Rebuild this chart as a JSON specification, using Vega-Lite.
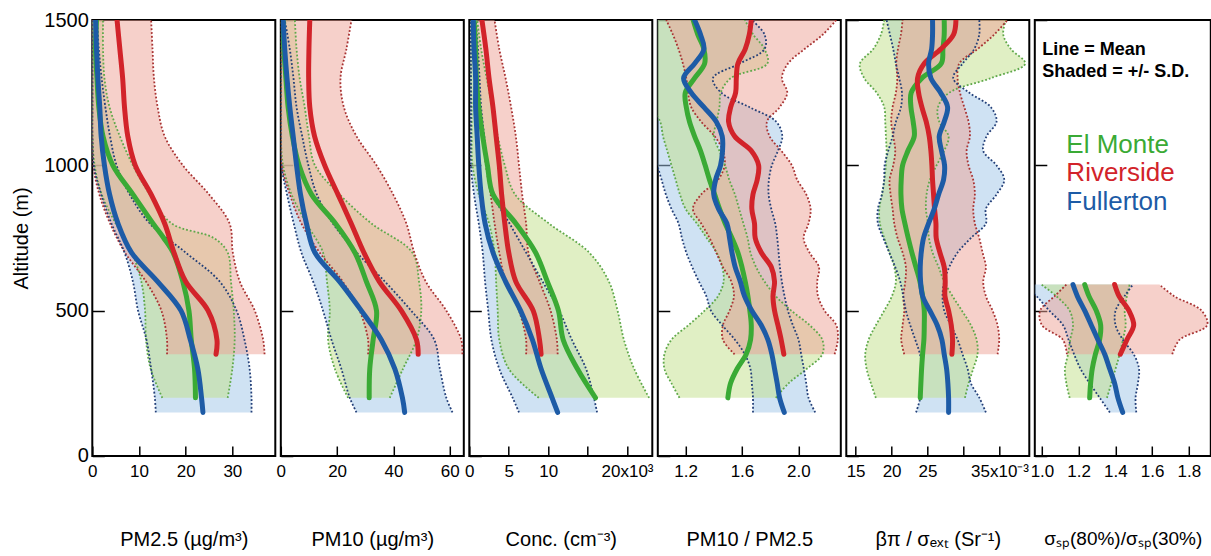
{
 "$schema": "https://vega.github.io/schema/vega-lite/v6.json",
 "background": "white",
 "padding": {"left": 10.3, "top": 9, "right": 0, "bottom": 0},
 "bounds": "flush",
 "spacing": 5.5,
 "config": {
  "view": {"stroke": "black", "strokeWidth": 2},
  "font": "Liberation Sans",
  "axis": {"labelFont": "Liberation Sans", "titleFont": "Liberation Sans", "labelColor": "black", "titleColor": "black", "tickColor": "black", "tickWidth": 1.5, "titleFontWeight": "normal", "grid": false, "domain": false, "labelOverlap": false, "labelBound": false, "labelFlush": false}
 },
 "datasets": {
  "notes": [
   {"p": "sp", "kind": "head", "label": "Line = Mean", "site": "none", "x": 1.002, "alt": 1397},
   {"p": "sp", "kind": "head", "label": "Shaded = +/- S.D.", "site": "none", "x": 1.002, "alt": 1321},
   {"p": "sp", "kind": "site", "label": "El Monte", "site": "El Monte", "x": 1.133, "alt": 1070},
   {"p": "sp", "kind": "site", "label": "Riverside", "site": "Riverside", "x": 1.133, "alt": 972},
   {"p": "sp", "kind": "site", "label": "Fullerton", "site": "Fullerton", "x": 1.133, "alt": 874}
  ],
  "prof": [
   {"p":"pm25","site":"El Monte","alt":1500,"mean":0.9,"lo":0,"hi":2.3},
   {"p":"pm25","site":"El Monte","alt":1400,"mean":0.7,"lo":0,"hi":2.3},
   {"p":"pm25","site":"El Monte","alt":1300,"mean":1.0,"lo":0,"hi":2.6},
   {"p":"pm25","site":"El Monte","alt":1200,"mean":1.4,"lo":0,"hi":3.7},
   {"p":"pm25","site":"El Monte","alt":1100,"mean":2.3,"lo":0,"hi":5.9},
   {"p":"pm25","site":"El Monte","alt":1000,"mean":4.4,"lo":0.5,"hi":8.7},
   {"p":"pm25","site":"El Monte","alt":900,"mean":8.7,"lo":2,"hi":12.3},
   {"p":"pm25","site":"El Monte","alt":800,"mean":13,"lo":5,"hi":17},
   {"p":"pm25","site":"El Monte","alt":750,"mean":15.3,"lo":6.8,"hi":26},
   {"p":"pm25","site":"El Monte","alt":700,"mean":17.3,"lo":8.5,"hi":29},
   {"p":"pm25","site":"El Monte","alt":600,"mean":19.4,"lo":10.5,"hi":29.7},
   {"p":"pm25","site":"El Monte","alt":500,"mean":20.7,"lo":11.3,"hi":30.3},
   {"p":"pm25","site":"El Monte","alt":400,"mean":21.2,"lo":11.5,"hi":30.5},
   {"p":"pm25","site":"El Monte","alt":300,"mean":21.9,"lo":12.5,"hi":30},
   {"p":"pm25","site":"El Monte","alt":200,"mean":22.1,"lo":15,"hi":29},
   {"p":"pm25","site":"Riverside","alt":1500,"mean":5.3,"lo":0,"hi":12.6},
   {"p":"pm25","site":"Riverside","alt":1400,"mean":5.9,"lo":0,"hi":12.9},
   {"p":"pm25","site":"Riverside","alt":1300,"mean":6.5,"lo":0,"hi":13.2},
   {"p":"pm25","site":"Riverside","alt":1200,"mean":6.9,"lo":0,"hi":14},
   {"p":"pm25","site":"Riverside","alt":1100,"mean":7.6,"lo":0,"hi":15.5},
   {"p":"pm25","site":"Riverside","alt":1000,"mean":9.2,"lo":0.2,"hi":19.4},
   {"p":"pm25","site":"Riverside","alt":900,"mean":12.6,"lo":1.5,"hi":25},
   {"p":"pm25","site":"Riverside","alt":800,"mean":15.5,"lo":3.8,"hi":29.4},
   {"p":"pm25","site":"Riverside","alt":700,"mean":17.5,"lo":7,"hi":30.1},
   {"p":"pm25","site":"Riverside","alt":600,"mean":20,"lo":11.5,"hi":31.6},
   {"p":"pm25","site":"Riverside","alt":500,"mean":24.8,"lo":14.8,"hi":34.8},
   {"p":"pm25","site":"Riverside","alt":400,"mean":26.7,"lo":16,"hi":36.6},
   {"p":"pm25","site":"Riverside","alt":350,"mean":26.5,"lo":16,"hi":36.9},
   {"p":"pm25","site":"Fullerton","alt":1500,"mean":0.7,"lo":0,"hi":1.0},
   {"p":"pm25","site":"Fullerton","alt":1400,"mean":0.9,"lo":0,"hi":1.4},
   {"p":"pm25","site":"Fullerton","alt":1300,"mean":1.2,"lo":0,"hi":2.0},
   {"p":"pm25","site":"Fullerton","alt":1200,"mean":1.6,"lo":0,"hi":2.8},
   {"p":"pm25","site":"Fullerton","alt":1100,"mean":1.9,"lo":0,"hi":3.8},
   {"p":"pm25","site":"Fullerton","alt":1000,"mean":2.6,"lo":0.3,"hi":5.2},
   {"p":"pm25","site":"Fullerton","alt":900,"mean":3.7,"lo":1.9,"hi":8},
   {"p":"pm25","site":"Fullerton","alt":800,"mean":5.5,"lo":4.1,"hi":12.3},
   {"p":"pm25","site":"Fullerton","alt":700,"mean":8.4,"lo":6.9,"hi":20},
   {"p":"pm25","site":"Fullerton","alt":600,"mean":14,"lo":8.7,"hi":27.3},
   {"p":"pm25","site":"Fullerton","alt":500,"mean":19,"lo":9.8,"hi":30.9},
   {"p":"pm25","site":"Fullerton","alt":400,"mean":21,"lo":11.6,"hi":32.6},
   {"p":"pm25","site":"Fullerton","alt":300,"mean":22.6,"lo":12.6,"hi":33.7},
   {"p":"pm25","site":"Fullerton","alt":200,"mean":23.4,"lo":13.4,"hi":34.1},
   {"p":"pm25","site":"Fullerton","alt":150,"mean":23.7,"lo":13.6,"hi":34.1},

   {"p":"pm10","site":"El Monte","alt":1500,"mean":0.8,"lo":0,"hi":5},
   {"p":"pm10","site":"El Monte","alt":1400,"mean":1.1,"lo":0,"hi":5.6},
   {"p":"pm10","site":"El Monte","alt":1300,"mean":1.8,"lo":0,"hi":6.7},
   {"p":"pm10","site":"El Monte","alt":1200,"mean":2.6,"lo":0,"hi":8.5},
   {"p":"pm10","site":"El Monte","alt":1100,"mean":4.1,"lo":0,"hi":10},
   {"p":"pm10","site":"El Monte","alt":1000,"mean":6.5,"lo":0.8,"hi":12.1},
   {"p":"pm10","site":"El Monte","alt":900,"mean":10.9,"lo":3.8,"hi":20.9},
   {"p":"pm10","site":"El Monte","alt":800,"mean":19.4,"lo":9.1,"hi":32.2},
   {"p":"pm10","site":"El Monte","alt":700,"mean":26.3,"lo":15,"hi":46.7},
   {"p":"pm10","site":"El Monte","alt":600,"mean":30.4,"lo":16.4,"hi":49.1},
   {"p":"pm10","site":"El Monte","alt":500,"mean":34,"lo":17.4,"hi":49.9},
   {"p":"pm10","site":"El Monte","alt":400,"mean":32.8,"lo":16.8,"hi":48.2},
   {"p":"pm10","site":"El Monte","alt":300,"mean":31.6,"lo":19.2,"hi":43.4},
   {"p":"pm10","site":"El Monte","alt":200,"mean":31.4,"lo":23.9,"hi":38.7},
   {"p":"pm10","site":"Riverside","alt":1500,"mean":10.3,"lo":0,"hi":25.1},
   {"p":"pm10","site":"Riverside","alt":1400,"mean":10,"lo":0,"hi":23.3},
   {"p":"pm10","site":"Riverside","alt":1300,"mean":9.9,"lo":0,"hi":21.2},
   {"p":"pm10","site":"Riverside","alt":1200,"mean":10.3,"lo":0,"hi":22.4},
   {"p":"pm10","site":"Riverside","alt":1100,"mean":12,"lo":0,"hi":26.9},
   {"p":"pm10","site":"Riverside","alt":1000,"mean":15.6,"lo":0.3,"hi":34},
   {"p":"pm10","site":"Riverside","alt":900,"mean":20.3,"lo":3.2,"hi":39.9},
   {"p":"pm10","site":"Riverside","alt":800,"mean":25,"lo":7.3,"hi":44.6},
   {"p":"pm10","site":"Riverside","alt":700,"mean":29.5,"lo":13.8,"hi":47.4},
   {"p":"pm10","site":"Riverside","alt":600,"mean":35,"lo":22,"hi":51.5},
   {"p":"pm10","site":"Riverside","alt":500,"mean":42.8,"lo":28,"hi":58.8},
   {"p":"pm10","site":"Riverside","alt":400,"mean":48.2,"lo":31,"hi":64.1},
   {"p":"pm10","site":"Riverside","alt":350,"mean":48.8,"lo":31,"hi":64.5},
   {"p":"pm10","site":"Fullerton","alt":1500,"mean":0.8,"lo":0,"hi":1.4},
   {"p":"pm10","site":"Fullerton","alt":1400,"mean":1.4,"lo":0,"hi":3.2},
   {"p":"pm10","site":"Fullerton","alt":1300,"mean":2.2,"lo":0,"hi":4.5},
   {"p":"pm10","site":"Fullerton","alt":1200,"mean":3.2,"lo":0,"hi":5.6},
   {"p":"pm10","site":"Fullerton","alt":1100,"mean":4.4,"lo":0,"hi":7.6},
   {"p":"pm10","site":"Fullerton","alt":1000,"mean":5.6,"lo":0.2,"hi":9.8},
   {"p":"pm10","site":"Fullerton","alt":900,"mean":7,"lo":2.2,"hi":12.8},
   {"p":"pm10","site":"Fullerton","alt":800,"mean":9.1,"lo":4.6,"hi":18.5},
   {"p":"pm10","site":"Fullerton","alt":700,"mean":12.1,"lo":7.3,"hi":27},
   {"p":"pm10","site":"Fullerton","alt":600,"mean":20.9,"lo":11.5,"hi":37},
   {"p":"pm10","site":"Fullerton","alt":500,"mean":28.6,"lo":15,"hi":46.3},
   {"p":"pm10","site":"Fullerton","alt":400,"mean":35.7,"lo":18,"hi":54.5},
   {"p":"pm10","site":"Fullerton","alt":300,"mean":40.5,"lo":21.5,"hi":56.5},
   {"p":"pm10","site":"Fullerton","alt":200,"mean":43.2,"lo":24.5,"hi":58.8},
   {"p":"pm10","site":"Fullerton","alt":150,"mean":44,"lo":26.9,"hi":61},

   {"p":"conc","site":"El Monte","alt":1500,"mean":0.6,"lo":0.2,"hi":1.0},
   {"p":"conc","site":"El Monte","alt":1400,"mean":0.8,"lo":0.2,"hi":1.5},
   {"p":"conc","site":"El Monte","alt":1300,"mean":0.9,"lo":0.2,"hi":2.2},
   {"p":"conc","site":"El Monte","alt":1200,"mean":1.2,"lo":0.3,"hi":2.9},
   {"p":"conc","site":"El Monte","alt":1100,"mean":1.7,"lo":0.3,"hi":3.6},
   {"p":"conc","site":"El Monte","alt":1000,"mean":2.3,"lo":0.4,"hi":4.5},
   {"p":"conc","site":"El Monte","alt":900,"mean":3.0,"lo":1.2,"hi":5.8},
   {"p":"conc","site":"El Monte","alt":800,"mean":5.9,"lo":2.5,"hi":10.1},
   {"p":"conc","site":"El Monte","alt":700,"mean":8.4,"lo":3.2,"hi":15.2},
   {"p":"conc","site":"El Monte","alt":600,"mean":9.9,"lo":3.4,"hi":17.7},
   {"p":"conc","site":"El Monte","alt":500,"mean":11.3,"lo":3.6,"hi":18.8},
   {"p":"conc","site":"El Monte","alt":400,"mean":11.9,"lo":3.8,"hi":19.6},
   {"p":"conc","site":"El Monte","alt":300,"mean":13.7,"lo":5.0,"hi":20.9},
   {"p":"conc","site":"El Monte","alt":200,"mean":16.0,"lo":8.8,"hi":22.8},
   {"p":"conc","site":"Riverside","alt":1500,"mean":1.6,"lo":0.4,"hi":3.2},
   {"p":"conc","site":"Riverside","alt":1400,"mean":2.1,"lo":0.6,"hi":3.8},
   {"p":"conc","site":"Riverside","alt":1300,"mean":2.5,"lo":0.9,"hi":4.6},
   {"p":"conc","site":"Riverside","alt":1200,"mean":3.0,"lo":1.3,"hi":5.3},
   {"p":"conc","site":"Riverside","alt":1100,"mean":3.4,"lo":1.7,"hi":5.9},
   {"p":"conc","site":"Riverside","alt":1000,"mean":3.8,"lo":2.1,"hi":6.3},
   {"p":"conc","site":"Riverside","alt":900,"mean":4.1,"lo":2.7,"hi":6.7},
   {"p":"conc","site":"Riverside","alt":800,"mean":4.5,"lo":3.2,"hi":7.2},
   {"p":"conc","site":"Riverside","alt":700,"mean":5.0,"lo":3.8,"hi":7.5},
   {"p":"conc","site":"Riverside","alt":600,"mean":5.9,"lo":4.6,"hi":8.9},
   {"p":"conc","site":"Riverside","alt":500,"mean":8.1,"lo":6.3,"hi":10.3},
   {"p":"conc","site":"Riverside","alt":400,"mean":8.9,"lo":7.2,"hi":11.1},
   {"p":"conc","site":"Riverside","alt":350,"mean":9.1,"lo":7.2,"hi":11.2},
   {"p":"conc","site":"Fullerton","alt":1500,"mean":0.5,"lo":0.2,"hi":0.8},
   {"p":"conc","site":"Fullerton","alt":1400,"mean":0.6,"lo":0.2,"hi":1.1},
   {"p":"conc","site":"Fullerton","alt":1300,"mean":0.8,"lo":0.2,"hi":1.3},
   {"p":"conc","site":"Fullerton","alt":1200,"mean":0.8,"lo":0.2,"hi":1.5},
   {"p":"conc","site":"Fullerton","alt":1100,"mean":1.0,"lo":0.2,"hi":1.9},
   {"p":"conc","site":"Fullerton","alt":1000,"mean":1.2,"lo":0.2,"hi":2.3},
   {"p":"conc","site":"Fullerton","alt":900,"mean":1.5,"lo":0.6,"hi":3.0},
   {"p":"conc","site":"Fullerton","alt":800,"mean":2.0,"lo":1.2,"hi":5.1},
   {"p":"conc","site":"Fullerton","alt":700,"mean":3.0,"lo":1.7,"hi":7.2},
   {"p":"conc","site":"Fullerton","alt":600,"mean":4.6,"lo":2.0,"hi":9.3},
   {"p":"conc","site":"Fullerton","alt":500,"mean":6.5,"lo":2.4,"hi":11.4},
   {"p":"conc","site":"Fullerton","alt":400,"mean":8.0,"lo":2.8,"hi":13.0},
   {"p":"conc","site":"Fullerton","alt":300,"mean":9.1,"lo":3.8,"hi":14.8},
   {"p":"conc","site":"Fullerton","alt":200,"mean":10.5,"lo":5.5,"hi":15.8},
   {"p":"conc","site":"Fullerton","alt":150,"mean":11.2,"lo":6.3,"hi":16.2},

   {"p":"ratio","site":"El Monte","alt":1500,"mean":1.254,"lo":0.95,"hi":1.62},
   {"p":"ratio","site":"El Monte","alt":1450,"mean":1.287,"lo":0.95,"hi":1.68},
   {"p":"ratio","site":"El Monte","alt":1400,"mean":1.33,"lo":0.95,"hi":1.76},
   {"p":"ratio","site":"El Monte","alt":1350,"mean":1.335,"lo":0.95,"hi":1.78},
   {"p":"ratio","site":"El Monte","alt":1300,"mean":1.264,"lo":0.95,"hi":1.52},
   {"p":"ratio","site":"El Monte","alt":1250,"mean":1.198,"lo":0.95,"hi":1.45},
   {"p":"ratio","site":"El Monte","alt":1200,"mean":1.205,"lo":0.96,"hi":1.44},
   {"p":"ratio","site":"El Monte","alt":1150,"mean":1.228,"lo":1.02,"hi":1.42},
   {"p":"ratio","site":"El Monte","alt":1100,"mean":1.264,"lo":1.04,"hi":1.40},
   {"p":"ratio","site":"El Monte","alt":1050,"mean":1.306,"lo":1.07,"hi":1.44},
   {"p":"ratio","site":"El Monte","alt":1000,"mean":1.339,"lo":1.10,"hi":1.48},
   {"p":"ratio","site":"El Monte","alt":950,"mean":1.37,"lo":1.13,"hi":1.51},
   {"p":"ratio","site":"El Monte","alt":900,"mean":1.406,"lo":1.16,"hi":1.55},
   {"p":"ratio","site":"El Monte","alt":850,"mean":1.441,"lo":1.20,"hi":1.58},
   {"p":"ratio","site":"El Monte","alt":800,"mean":1.481,"lo":1.28,"hi":1.61},
   {"p":"ratio","site":"El Monte","alt":750,"mean":1.529,"lo":1.35,"hi":1.64},
   {"p":"ratio","site":"El Monte","alt":700,"mean":1.571,"lo":1.42,"hi":1.66},
   {"p":"ratio","site":"El Monte","alt":650,"mean":1.6,"lo":1.46,"hi":1.70},
   {"p":"ratio","site":"El Monte","alt":600,"mean":1.623,"lo":1.47,"hi":1.76},
   {"p":"ratio","site":"El Monte","alt":550,"mean":1.642,"lo":1.43,"hi":1.84},
   {"p":"ratio","site":"El Monte","alt":500,"mean":1.656,"lo":1.335,"hi":1.95},
   {"p":"ratio","site":"El Monte","alt":450,"mean":1.666,"lo":1.22,"hi":2.08},
   {"p":"ratio","site":"El Monte","alt":400,"mean":1.661,"lo":1.10,"hi":2.17},
   {"p":"ratio","site":"El Monte","alt":350,"mean":1.63,"lo":1.05,"hi":2.17},
   {"p":"ratio","site":"El Monte","alt":300,"mean":1.566,"lo":1.05,"hi":2.06},
   {"p":"ratio","site":"El Monte","alt":250,"mean":1.519,"lo":1.10,"hi":1.93},
   {"p":"ratio","site":"El Monte","alt":200,"mean":1.5,"lo":1.157,"hi":1.84},
   {"p":"ratio","site":"Riverside","alt":1500,"mean":1.666,"lo":1.063,"hi":2.269},
   {"p":"ratio","site":"Riverside","alt":1450,"mean":1.652,"lo":1.11,"hi":2.174},
   {"p":"ratio","site":"Riverside","alt":1400,"mean":1.623,"lo":1.15,"hi":2.044},
   {"p":"ratio","site":"Riverside","alt":1350,"mean":1.571,"lo":1.181,"hi":1.926},
   {"p":"ratio","site":"Riverside","alt":1300,"mean":1.56,"lo":1.205,"hi":1.883},
   {"p":"ratio","site":"Riverside","alt":1250,"mean":1.555,"lo":1.217,"hi":1.921},
   {"p":"ratio","site":"Riverside","alt":1200,"mean":1.52,"lo":1.24,"hi":1.867},
   {"p":"ratio","site":"Riverside","alt":1150,"mean":1.505,"lo":1.311,"hi":1.777},
   {"p":"ratio","site":"Riverside","alt":1100,"mean":1.548,"lo":1.406,"hi":1.796},
   {"p":"ratio","site":"Riverside","alt":1050,"mean":1.666,"lo":1.465,"hi":1.879},
   {"p":"ratio","site":"Riverside","alt":1000,"mean":1.718,"lo":1.477,"hi":1.954},
   {"p":"ratio","site":"Riverside","alt":950,"mean":1.708,"lo":1.43,"hi":1.992},
   {"p":"ratio","site":"Riverside","alt":900,"mean":1.678,"lo":1.311,"hi":2.056},
   {"p":"ratio","site":"Riverside","alt":850,"mean":1.67,"lo":1.252,"hi":2.087},
   {"p":"ratio","site":"Riverside","alt":800,"mean":1.689,"lo":1.311,"hi":2.072},
   {"p":"ratio","site":"Riverside","alt":750,"mean":1.694,"lo":1.37,"hi":2.037},
   {"p":"ratio","site":"Riverside","alt":700,"mean":1.737,"lo":1.417,"hi":2.079},
   {"p":"ratio","site":"Riverside","alt":650,"mean":1.808,"lo":1.465,"hi":2.146},
   {"p":"ratio","site":"Riverside","alt":600,"mean":1.831,"lo":1.524,"hi":2.134},
   {"p":"ratio","site":"Riverside","alt":550,"mean":1.82,"lo":1.543,"hi":2.139},
   {"p":"ratio","site":"Riverside","alt":500,"mean":1.831,"lo":1.512,"hi":2.186},
   {"p":"ratio","site":"Riverside","alt":450,"mean":1.855,"lo":1.465,"hi":2.269},
   {"p":"ratio","site":"Riverside","alt":400,"mean":1.878,"lo":1.465,"hi":2.28},
   {"p":"ratio","site":"Riverside","alt":350,"mean":1.897,"lo":1.548,"hi":2.257},
   {"p":"ratio","site":"Fullerton","alt":1500,"mean":1.264,"lo":0.95,"hi":1.67},
   {"p":"ratio","site":"Fullerton","alt":1450,"mean":1.306,"lo":0.95,"hi":1.76},
   {"p":"ratio","site":"Fullerton","alt":1400,"mean":1.33,"lo":0.95,"hi":1.76},
   {"p":"ratio","site":"Fullerton","alt":1350,"mean":1.264,"lo":0.95,"hi":1.583},
   {"p":"ratio","site":"Fullerton","alt":1300,"mean":1.186,"lo":0.95,"hi":1.394},
   {"p":"ratio","site":"Fullerton","alt":1250,"mean":1.24,"lo":0.95,"hi":1.453},
   {"p":"ratio","site":"Fullerton","alt":1200,"mean":1.33,"lo":0.95,"hi":1.654},
   {"p":"ratio","site":"Fullerton","alt":1150,"mean":1.418,"lo":0.95,"hi":1.843},
   {"p":"ratio","site":"Fullerton","alt":1100,"mean":1.46,"lo":0.95,"hi":1.886},
   {"p":"ratio","site":"Fullerton","alt":1050,"mean":1.462,"lo":0.98,"hi":1.855},
   {"p":"ratio","site":"Fullerton","alt":1000,"mean":1.448,"lo":1.0,"hi":1.812},
   {"p":"ratio","site":"Fullerton","alt":950,"mean":1.413,"lo":1.03,"hi":1.791},
   {"p":"ratio","site":"Fullerton","alt":900,"mean":1.4,"lo":1.06,"hi":1.789},
   {"p":"ratio","site":"Fullerton","alt":850,"mean":1.434,"lo":1.1,"hi":1.808},
   {"p":"ratio","site":"Fullerton","alt":800,"mean":1.493,"lo":1.15,"hi":1.836},
   {"p":"ratio","site":"Fullerton","alt":750,"mean":1.512,"lo":1.174,"hi":1.85},
   {"p":"ratio","site":"Fullerton","alt":700,"mean":1.529,"lo":1.205,"hi":1.86},
   {"p":"ratio","site":"Fullerton","alt":650,"mean":1.552,"lo":1.247,"hi":1.869},
   {"p":"ratio","site":"Fullerton","alt":600,"mean":1.588,"lo":1.295,"hi":1.883},
   {"p":"ratio","site":"Fullerton","alt":550,"mean":1.618,"lo":1.347,"hi":1.902},
   {"p":"ratio","site":"Fullerton","alt":500,"mean":1.67,"lo":1.38,"hi":1.926},
   {"p":"ratio","site":"Fullerton","alt":450,"mean":1.737,"lo":1.46,"hi":1.961},
   {"p":"ratio","site":"Fullerton","alt":400,"mean":1.784,"lo":1.55,"hi":2.001},
   {"p":"ratio","site":"Fullerton","alt":350,"mean":1.812,"lo":1.62,"hi":2.02},
   {"p":"ratio","site":"Fullerton","alt":300,"mean":1.831,"lo":1.66,"hi":2.039},
   {"p":"ratio","site":"Fullerton","alt":250,"mean":1.85,"lo":1.67,"hi":2.056},
   {"p":"ratio","site":"Fullerton","alt":200,"mean":1.867,"lo":1.678,"hi":2.072},
   {"p":"ratio","site":"Fullerton","alt":150,"mean":1.9,"lo":1.678,"hi":2.12},

   {"p":"lidar","site":"El Monte","alt":1500,"mean":27.31,"lo":18.98,"hi":35.88},
   {"p":"lidar","site":"El Monte","alt":1450,"mean":27.31,"lo":18.52,"hi":35.51},
   {"p":"lidar","site":"El Monte","alt":1400,"mean":27.13,"lo":17.45,"hi":36.57},
   {"p":"lidar","site":"El Monte","alt":1350,"mean":26.9,"lo":15.6,"hi":38.56},
   {"p":"lidar","site":"El Monte","alt":1300,"mean":24.2,"lo":16.2,"hi":33.8},
   {"p":"lidar","site":"El Monte","alt":1250,"mean":22.73,"lo":17.92,"hi":28.01},
   {"p":"lidar","site":"El Monte","alt":1200,"mean":22.69,"lo":18.98,"hi":26.44},
   {"p":"lidar","site":"El Monte","alt":1150,"mean":23.0,"lo":19.12,"hi":26.62},
   {"p":"lidar","site":"El Monte","alt":1100,"mean":23.15,"lo":19.21,"hi":27.92},
   {"p":"lidar","site":"El Monte","alt":1050,"mean":22.27,"lo":19.31,"hi":27.31},
   {"p":"lidar","site":"El Monte","alt":1000,"mean":21.53,"lo":19.21,"hi":26.25},
   {"p":"lidar","site":"El Monte","alt":950,"mean":21.34,"lo":18.98,"hi":25.32},
   {"p":"lidar","site":"El Monte","alt":900,"mean":21.3,"lo":18.66,"hi":24.86},
   {"p":"lidar","site":"El Monte","alt":850,"mean":21.44,"lo":18.29,"hi":24.77},
   {"p":"lidar","site":"El Monte","alt":800,"mean":21.85,"lo":18.38,"hi":25.05},
   {"p":"lidar","site":"El Monte","alt":750,"mean":22.31,"lo":18.98,"hi":25.19},
   {"p":"lidar","site":"El Monte","alt":700,"mean":22.82,"lo":19.68,"hi":25.69},
   {"p":"lidar","site":"El Monte","alt":650,"mean":23.38,"lo":20.37,"hi":26.53},
   {"p":"lidar","site":"El Monte","alt":600,"mean":23.94,"lo":20.6,"hi":27.31},
   {"p":"lidar","site":"El Monte","alt":550,"mean":24.31,"lo":20.05,"hi":28.47},
   {"p":"lidar","site":"El Monte","alt":500,"mean":24.54,"lo":18.98,"hi":29.77},
   {"p":"lidar","site":"El Monte","alt":450,"mean":24.54,"lo":17.82,"hi":31.02},
   {"p":"lidar","site":"El Monte","alt":400,"mean":24.49,"lo":16.81,"hi":31.81},
   {"p":"lidar","site":"El Monte","alt":350,"mean":24.31,"lo":16.34,"hi":31.94},
   {"p":"lidar","site":"El Monte","alt":300,"mean":24.17,"lo":16.53,"hi":31.34},
   {"p":"lidar","site":"El Monte","alt":250,"mean":24.07,"lo":17.13,"hi":30.69},
   {"p":"lidar","site":"El Monte","alt":200,"mean":23.98,"lo":17.82,"hi":30.19},
   {"p":"lidar","site":"Riverside","alt":1500,"mean":28.94,"lo":21.53,"hi":36.1},
   {"p":"lidar","site":"Riverside","alt":1450,"mean":28.61,"lo":21.3,"hi":34.26},
   {"p":"lidar","site":"Riverside","alt":1400,"mean":26.85,"lo":20.88,"hi":31.94},
   {"p":"lidar","site":"Riverside","alt":1350,"mean":24.54,"lo":20.65,"hi":29.4},
   {"p":"lidar","site":"Riverside","alt":1300,"mean":23.61,"lo":20.79,"hi":29.17},
   {"p":"lidar","site":"Riverside","alt":1250,"mean":23.75,"lo":20.6,"hi":29.5},
   {"p":"lidar","site":"Riverside","alt":1200,"mean":24.21,"lo":20.14,"hi":30.1},
   {"p":"lidar","site":"Riverside","alt":1150,"mean":24.81,"lo":19.95,"hi":30.69},
   {"p":"lidar","site":"Riverside","alt":1100,"mean":25.23,"lo":20.23,"hi":30.88},
   {"p":"lidar","site":"Riverside","alt":1050,"mean":25.46,"lo":20.51,"hi":30.42},
   {"p":"lidar","site":"Riverside","alt":1000,"mean":25.6,"lo":20.23,"hi":30.69},
   {"p":"lidar","site":"Riverside","alt":950,"mean":25.69,"lo":19.72,"hi":31.34},
   {"p":"lidar","site":"Riverside","alt":900,"mean":25.83,"lo":19.86,"hi":31.57},
   {"p":"lidar","site":"Riverside","alt":850,"mean":25.97,"lo":20.14,"hi":31.34},
   {"p":"lidar","site":"Riverside","alt":800,"mean":26.16,"lo":20.37,"hi":31.57},
   {"p":"lidar","site":"Riverside","alt":750,"mean":26.2,"lo":20.83,"hi":32.18},
   {"p":"lidar","site":"Riverside","alt":700,"mean":26.71,"lo":21.53,"hi":32.64},
   {"p":"lidar","site":"Riverside","alt":650,"mean":27.31,"lo":21.99,"hi":33.1},
   {"p":"lidar","site":"Riverside","alt":600,"mean":27.45,"lo":21.9,"hi":32.73},
   {"p":"lidar","site":"Riverside","alt":550,"mean":27.41,"lo":21.62,"hi":33.1},
   {"p":"lidar","site":"Riverside","alt":500,"mean":27.92,"lo":21.76,"hi":34.03},
   {"p":"lidar","site":"Riverside","alt":450,"mean":28.29,"lo":21.53,"hi":34.72},
   {"p":"lidar","site":"Riverside","alt":400,"mean":28.47,"lo":21.34,"hi":34.95},
   {"p":"lidar","site":"Riverside","alt":350,"mean":28.38,"lo":21.76,"hi":34.72},
   {"p":"lidar","site":"Fullerton","alt":1500,"mean":25.69,"lo":19.31,"hi":32.18},
   {"p":"lidar","site":"Fullerton","alt":1450,"mean":25.69,"lo":19.77,"hi":32.18},
   {"p":"lidar","site":"Fullerton","alt":1400,"mean":25.56,"lo":20.23,"hi":31.48},
   {"p":"lidar","site":"Fullerton","alt":1350,"mean":25.14,"lo":20.6,"hi":29.86},
   {"p":"lidar","site":"Fullerton","alt":1300,"mean":25.46,"lo":21.06,"hi":28.56},
   {"p":"lidar","site":"Fullerton","alt":1250,"mean":26.81,"lo":21.44,"hi":30.79},
   {"p":"lidar","site":"Fullerton","alt":1200,"mean":27.78,"lo":21.3,"hi":33.8},
   {"p":"lidar","site":"Fullerton","alt":1150,"mean":27.31,"lo":20.6,"hi":34.58},
   {"p":"lidar","site":"Fullerton","alt":1100,"mean":26.62,"lo":20.14,"hi":33.19},
   {"p":"lidar","site":"Fullerton","alt":1050,"mean":26.94,"lo":19.54,"hi":32.73},
   {"p":"lidar","site":"Fullerton","alt":1000,"mean":27.36,"lo":19.03,"hi":34.58},
   {"p":"lidar","site":"Fullerton","alt":950,"mean":27.22,"lo":18.98,"hi":35.65},
   {"p":"lidar","site":"Fullerton","alt":900,"mean":26.53,"lo":18.66,"hi":34.58},
   {"p":"lidar","site":"Fullerton","alt":850,"mean":25.93,"lo":18.1,"hi":33.1},
   {"p":"lidar","site":"Fullerton","alt":800,"mean":25.14,"lo":18.1,"hi":33.1},
   {"p":"lidar","site":"Fullerton","alt":750,"mean":24.44,"lo":18.84,"hi":31.02},
   {"p":"lidar","site":"Fullerton","alt":700,"mean":24.12,"lo":19.68,"hi":29.17},
   {"p":"lidar","site":"Fullerton","alt":650,"mean":23.98,"lo":20.51,"hi":28.01},
   {"p":"lidar","site":"Fullerton","alt":600,"mean":24.03,"lo":21.2,"hi":27.31},
   {"p":"lidar","site":"Fullerton","alt":550,"mean":24.31,"lo":21.62,"hi":27.08},
   {"p":"lidar","site":"Fullerton","alt":500,"mean":25.32,"lo":21.99,"hi":27.31},
   {"p":"lidar","site":"Fullerton","alt":450,"mean":26.34,"lo":22.59,"hi":28.24},
   {"p":"lidar","site":"Fullerton","alt":400,"mean":26.99,"lo":23.29,"hi":29.17},
   {"p":"lidar","site":"Fullerton","alt":350,"mean":27.31,"lo":23.94,"hi":29.86},
   {"p":"lidar","site":"Fullerton","alt":300,"mean":27.64,"lo":24.21,"hi":30.56},
   {"p":"lidar","site":"Fullerton","alt":250,"mean":27.82,"lo":24.12,"hi":31.02},
   {"p":"lidar","site":"Fullerton","alt":200,"mean":27.92,"lo":23.98,"hi":32.2},
   {"p":"lidar","site":"Fullerton","alt":150,"mean":27.92,"lo":23.4,"hi":33.1},

   {"p":"sp","site":"El Monte","alt":590,"mean":1.233,"lo":0.996,"hi":1.478},
   {"p":"sp","site":"El Monte","alt":550,"mean":1.256,"lo":1.078,"hi":1.463},
   {"p":"sp","site":"El Monte","alt":500,"mean":1.296,"lo":1.151,"hi":1.451},
   {"p":"sp","site":"El Monte","alt":450,"mean":1.32,"lo":1.169,"hi":1.456},
   {"p":"sp","site":"El Monte","alt":400,"mean":1.314,"lo":1.154,"hi":1.441},
   {"p":"sp","site":"El Monte","alt":350,"mean":1.291,"lo":1.142,"hi":1.423},
   {"p":"sp","site":"El Monte","alt":300,"mean":1.274,"lo":1.125,"hi":1.401},
   {"p":"sp","site":"El Monte","alt":250,"mean":1.265,"lo":1.133,"hi":1.378},
   {"p":"sp","site":"El Monte","alt":200,"mean":1.26,"lo":1.151,"hi":1.354},
   {"p":"sp","site":"Riverside","alt":590,"mean":1.396,"lo":1.133,"hi":1.64},
   {"p":"sp","site":"Riverside","alt":550,"mean":1.42,"lo":1.069,"hi":1.72},
   {"p":"sp","site":"Riverside","alt":500,"mean":1.474,"lo":0.99,"hi":1.87},
   {"p":"sp","site":"Riverside","alt":450,"mean":1.5,"lo":1.0,"hi":1.9},
   {"p":"sp","site":"Riverside","alt":400,"mean":1.463,"lo":1.114,"hi":1.75},
   {"p":"sp","site":"Riverside","alt":350,"mean":1.427,"lo":1.136,"hi":1.71},
   {"p":"sp","site":"Fullerton","alt":590,"mean":1.169,"lo":0.9,"hi":1.496},
   {"p":"sp","site":"Fullerton","alt":550,"mean":1.193,"lo":0.97,"hi":1.45},
   {"p":"sp","site":"Fullerton","alt":500,"mean":1.233,"lo":1.04,"hi":1.401},
   {"p":"sp","site":"Fullerton","alt":450,"mean":1.269,"lo":1.115,"hi":1.401},
   {"p":"sp","site":"Fullerton","alt":400,"mean":1.305,"lo":1.145,"hi":1.441},
   {"p":"sp","site":"Fullerton","alt":350,"mean":1.342,"lo":1.175,"hi":1.5},
   {"p":"sp","site":"Fullerton","alt":300,"mean":1.369,"lo":1.21,"hi":1.529},
   {"p":"sp","site":"Fullerton","alt":250,"mean":1.396,"lo":1.26,"hi":1.523},
   {"p":"sp","site":"Fullerton","alt":200,"mean":1.414,"lo":1.315,"hi":1.51},
   {"p":"sp","site":"Fullerton","alt":150,"mean":1.44,"lo":1.37,"hi":1.514}
  ]
 },
 "hconcat": [
  {
   "width": 183, "height": 436,
   "data": {"name": "prof"},
   "transform": [{"filter": "datum.p === 'pm25'"}],
   "encoding": {"y": {"field": "alt", "type": "quantitative", "scale": {"domain": [0, 1500], "nice": false, "zero": false},
     "axis": {"values": [0, 500, 1000, 1500], "format": "d", "tickSize": -12, "labelPadding": 16, "labelFontSize": 20, "title": "Altitude (m)", "titleFontSize": 20, "titlePadding": 12}}},
   "layer": [
    {"transform": [{"filter": "datum.site === 'Fullerton'"}],
     "mark": {"type": "area", "orient": "horizontal", "interpolate": "catmull-rom", "fill": "#9fc5e8", "fillOpacity": 0.5, "clip": true},
     "encoding": {"x": {"field": "lo", "type": "quantitative", "scale": {"domain": [0, 39.2], "nice": false, "zero": false},
        "axis": {"values": [0, 10, 20, 30], "tickSize": -10, "labelPadding": 18, "labelFontSize": 17, "title": "PM2.5 (µg/m³)", "titleFontSize": 20, "titlePadding": 50}},
      "x2": {"field": "hi"}}},
    {"transform": [{"filter": "datum.site === 'El Monte'"}],
     "mark": {"type": "area", "orient": "horizontal", "interpolate": "catmull-rom", "fill": "#c2e08a", "fillOpacity": 0.5, "clip": true},
     "encoding": {"x": {"field": "lo", "type": "quantitative", "scale": {"domain": [0, 39.2], "nice": false, "zero": false}}, "x2": {"field": "hi"}}},
    {"transform": [{"filter": "datum.site === 'Riverside'"}],
     "mark": {"type": "area", "orient": "horizontal", "interpolate": "catmull-rom", "fill": "#eea196", "fillOpacity": 0.5, "clip": true},
     "encoding": {"x": {"field": "lo", "type": "quantitative", "scale": {"domain": [0, 39.2], "nice": false, "zero": false}}, "x2": {"field": "hi"}}},
    {"mark": {"type": "line", "interpolate": "catmull-rom", "strokeDash": [1.8, 2], "strokeWidth": 1.8, "clip": true},
     "encoding": {"x": {"field": "lo", "type": "quantitative", "scale": {"domain": [0, 39.2], "nice": false, "zero": false}},
      "stroke": {"field": "site", "type": "nominal", "scale": {"domain": ["El Monte", "Riverside", "Fullerton"], "range": ["#5fa84a", "#a83232", "#233f78"]}, "legend": null},
      "order": {"field": "alt", "type": "quantitative"}}},
    {"mark": {"type": "line", "interpolate": "catmull-rom", "strokeDash": [1.8, 2], "strokeWidth": 1.8, "clip": true},
     "encoding": {"x": {"field": "hi", "type": "quantitative", "scale": {"domain": [0, 39.2], "nice": false, "zero": false}},
      "stroke": {"field": "site", "type": "nominal", "scale": {"domain": ["El Monte", "Riverside", "Fullerton"], "range": ["#5fa84a", "#a83232", "#233f78"]}, "legend": null},
      "order": {"field": "alt", "type": "quantitative"}}},
    {"mark": {"type": "line", "interpolate": "catmull-rom", "strokeWidth": 5, "strokeCap": "round", "clip": true},
     "encoding": {"x": {"field": "mean", "type": "quantitative", "scale": {"domain": [0, 39.2], "nice": false, "zero": false}},
      "color": {"field": "site", "type": "nominal", "scale": {"domain": ["El Monte", "Riverside", "Fullerton"], "range": ["#3aaa35", "#d2232a", "#1d5ba6"]}, "legend": null},
      "order": {"field": "alt", "type": "quantitative"}}}
   ]
  },
  {
   "width": 183, "height": 436,
   "data": {"name": "prof"},
   "transform": [{"filter": "datum.p === 'pm10'"}],
   "encoding": {"y": {"field": "alt", "type": "quantitative", "scale": {"domain": [0, 1500], "nice": false, "zero": false},
     "axis": {"values": [0, 500, 1000, 1500], "tickSize": -12, "labels": false, "title": null}}},
   "layer": [
    {"transform": [{"filter": "datum.site === 'Fullerton'"}],
     "mark": {"type": "area", "orient": "horizontal", "interpolate": "catmull-rom", "fill": "#9fc5e8", "fillOpacity": 0.5, "clip": true},
     "encoding": {"x": {"field": "lo", "type": "quantitative", "scale": {"domain": [0, 65], "nice": false, "zero": false},
        "axis": {"values": [0, 10, 20, 30, 40, 50, 60], "labelExpr": "datum.value % 20 === 0 ? datum.label : ''", "tickSize": -10, "labelPadding": 18, "labelFontSize": 17, "title": "PM10 (µg/m³)", "titleFontSize": 20, "titlePadding": 50}},
      "x2": {"field": "hi"}}},
    {"transform": [{"filter": "datum.site === 'El Monte'"}],
     "mark": {"type": "area", "orient": "horizontal", "interpolate": "catmull-rom", "fill": "#c2e08a", "fillOpacity": 0.5, "clip": true},
     "encoding": {"x": {"field": "lo", "type": "quantitative", "scale": {"domain": [0, 65], "nice": false, "zero": false}}, "x2": {"field": "hi"}}},
    {"transform": [{"filter": "datum.site === 'Riverside'"}],
     "mark": {"type": "area", "orient": "horizontal", "interpolate": "catmull-rom", "fill": "#eea196", "fillOpacity": 0.5, "clip": true},
     "encoding": {"x": {"field": "lo", "type": "quantitative", "scale": {"domain": [0, 65], "nice": false, "zero": false}}, "x2": {"field": "hi"}}},
    {"mark": {"type": "line", "interpolate": "catmull-rom", "strokeDash": [1.8, 2], "strokeWidth": 1.8, "clip": true},
     "encoding": {"x": {"field": "lo", "type": "quantitative", "scale": {"domain": [0, 65], "nice": false, "zero": false}},
      "stroke": {"field": "site", "type": "nominal", "scale": {"domain": ["El Monte", "Riverside", "Fullerton"], "range": ["#5fa84a", "#a83232", "#233f78"]}, "legend": null},
      "order": {"field": "alt", "type": "quantitative"}}},
    {"mark": {"type": "line", "interpolate": "catmull-rom", "strokeDash": [1.8, 2], "strokeWidth": 1.8, "clip": true},
     "encoding": {"x": {"field": "hi", "type": "quantitative", "scale": {"domain": [0, 65], "nice": false, "zero": false}},
      "stroke": {"field": "site", "type": "nominal", "scale": {"domain": ["El Monte", "Riverside", "Fullerton"], "range": ["#5fa84a", "#a83232", "#233f78"]}, "legend": null},
      "order": {"field": "alt", "type": "quantitative"}}},
    {"mark": {"type": "line", "interpolate": "catmull-rom", "strokeWidth": 5, "strokeCap": "round", "clip": true},
     "encoding": {"x": {"field": "mean", "type": "quantitative", "scale": {"domain": [0, 65], "nice": false, "zero": false}},
      "color": {"field": "site", "type": "nominal", "scale": {"domain": ["El Monte", "Riverside", "Fullerton"], "range": ["#3aaa35", "#d2232a", "#1d5ba6"]}, "legend": null},
      "order": {"field": "alt", "type": "quantitative"}}}
   ]
  },
  {
   "width": 183, "height": 436,
   "data": {"name": "prof"},
   "transform": [{"filter": "datum.p === 'conc'"}],
   "encoding": {"y": {"field": "alt", "type": "quantitative", "scale": {"domain": [0, 1500], "nice": false, "zero": false},
     "axis": {"values": [0, 500, 1000, 1500], "tickSize": -12, "labels": false, "title": null}}},
   "layer": [
    {"transform": [{"filter": "datum.site === 'Fullerton'"}],
     "mark": {"type": "area", "orient": "horizontal", "interpolate": "catmull-rom", "fill": "#9fc5e8", "fillOpacity": 0.5, "clip": true},
     "encoding": {"x": {"field": "lo", "type": "quantitative", "scale": {"domain": [0, 23.2], "nice": false, "zero": false},
        "axis": {"values": [0, 5, 10, 15, 20], "labelExpr": "datum.value === 15 ? '' : (datum.value === 20 ? '20x10³' : datum.label)", "tickSize": -10, "labelPadding": 18, "labelFontSize": 17, "title": "Conc. (cm⁻³)", "titleFontSize": 20, "titlePadding": 50}},
      "x2": {"field": "hi"}}},
    {"transform": [{"filter": "datum.site === 'El Monte'"}],
     "mark": {"type": "area", "orient": "horizontal", "interpolate": "catmull-rom", "fill": "#c2e08a", "fillOpacity": 0.5, "clip": true},
     "encoding": {"x": {"field": "lo", "type": "quantitative", "scale": {"domain": [0, 23.2], "nice": false, "zero": false}}, "x2": {"field": "hi"}}},
    {"transform": [{"filter": "datum.site === 'Riverside'"}],
     "mark": {"type": "area", "orient": "horizontal", "interpolate": "catmull-rom", "fill": "#eea196", "fillOpacity": 0.5, "clip": true},
     "encoding": {"x": {"field": "lo", "type": "quantitative", "scale": {"domain": [0, 23.2], "nice": false, "zero": false}}, "x2": {"field": "hi"}}},
    {"mark": {"type": "line", "interpolate": "catmull-rom", "strokeDash": [1.8, 2], "strokeWidth": 1.8, "clip": true},
     "encoding": {"x": {"field": "lo", "type": "quantitative", "scale": {"domain": [0, 23.2], "nice": false, "zero": false}},
      "stroke": {"field": "site", "type": "nominal", "scale": {"domain": ["El Monte", "Riverside", "Fullerton"], "range": ["#5fa84a", "#a83232", "#233f78"]}, "legend": null},
      "order": {"field": "alt", "type": "quantitative"}}},
    {"mark": {"type": "line", "interpolate": "catmull-rom", "strokeDash": [1.8, 2], "strokeWidth": 1.8, "clip": true},
     "encoding": {"x": {"field": "hi", "type": "quantitative", "scale": {"domain": [0, 23.2], "nice": false, "zero": false}},
      "stroke": {"field": "site", "type": "nominal", "scale": {"domain": ["El Monte", "Riverside", "Fullerton"], "range": ["#5fa84a", "#a83232", "#233f78"]}, "legend": null},
      "order": {"field": "alt", "type": "quantitative"}}},
    {"mark": {"type": "line", "interpolate": "catmull-rom", "strokeWidth": 5, "strokeCap": "round", "clip": true},
     "encoding": {"x": {"field": "mean", "type": "quantitative", "scale": {"domain": [0, 23.2], "nice": false, "zero": false}},
      "color": {"field": "site", "type": "nominal", "scale": {"domain": ["El Monte", "Riverside", "Fullerton"], "range": ["#3aaa35", "#d2232a", "#1d5ba6"]}, "legend": null},
      "order": {"field": "alt", "type": "quantitative"}}}
   ]
  },
  {
   "width": 183, "height": 436,
   "data": {"name": "prof"},
   "transform": [{"filter": "datum.p === 'ratio'"}],
   "encoding": {"y": {"field": "alt", "type": "quantitative", "scale": {"domain": [0, 1500], "nice": false, "zero": false},
     "axis": {"values": [0, 500, 1000, 1500], "tickSize": -12, "labels": false, "title": null}}},
   "layer": [
    {"transform": [{"filter": "datum.site === 'Fullerton'"}],
     "mark": {"type": "area", "orient": "horizontal", "interpolate": "catmull-rom", "fill": "#9fc5e8", "fillOpacity": 0.5, "clip": true},
     "encoding": {"x": {"field": "lo", "type": "quantitative", "scale": {"domain": [1.003, 2.301], "nice": false, "zero": false},
        "axis": {"values": [1.2, 1.4, 1.6, 1.8, 2.0, 2.2], "format": ".1f", "labelExpr": "(format(datum.value, '.1f') === '1.4' || format(datum.value, '.1f') === '1.8' || format(datum.value, '.1f') === '2.2') ? '' : format(datum.value, '.1f')", "tickSize": -10, "labelPadding": 18, "labelFontSize": 17, "title": "PM10 / PM2.5", "titleFontSize": 20, "titlePadding": 50}},
      "x2": {"field": "hi"}}},
    {"transform": [{"filter": "datum.site === 'El Monte'"}],
     "mark": {"type": "area", "orient": "horizontal", "interpolate": "catmull-rom", "fill": "#c2e08a", "fillOpacity": 0.5, "clip": true},
     "encoding": {"x": {"field": "lo", "type": "quantitative", "scale": {"domain": [1.003, 2.301], "nice": false, "zero": false}}, "x2": {"field": "hi"}}},
    {"transform": [{"filter": "datum.site === 'Riverside'"}],
     "mark": {"type": "area", "orient": "horizontal", "interpolate": "catmull-rom", "fill": "#eea196", "fillOpacity": 0.5, "clip": true},
     "encoding": {"x": {"field": "lo", "type": "quantitative", "scale": {"domain": [1.003, 2.301], "nice": false, "zero": false}}, "x2": {"field": "hi"}}},
    {"mark": {"type": "line", "interpolate": "catmull-rom", "strokeDash": [1.8, 2], "strokeWidth": 1.8, "clip": true},
     "encoding": {"x": {"field": "lo", "type": "quantitative", "scale": {"domain": [1.003, 2.301], "nice": false, "zero": false}},
      "stroke": {"field": "site", "type": "nominal", "scale": {"domain": ["El Monte", "Riverside", "Fullerton"], "range": ["#5fa84a", "#a83232", "#233f78"]}, "legend": null},
      "order": {"field": "alt", "type": "quantitative"}}},
    {"mark": {"type": "line", "interpolate": "catmull-rom", "strokeDash": [1.8, 2], "strokeWidth": 1.8, "clip": true},
     "encoding": {"x": {"field": "hi", "type": "quantitative", "scale": {"domain": [1.003, 2.301], "nice": false, "zero": false}},
      "stroke": {"field": "site", "type": "nominal", "scale": {"domain": ["El Monte", "Riverside", "Fullerton"], "range": ["#5fa84a", "#a83232", "#233f78"]}, "legend": null},
      "order": {"field": "alt", "type": "quantitative"}}},
    {"mark": {"type": "line", "interpolate": "catmull-rom", "strokeWidth": 5, "strokeCap": "round", "clip": true},
     "encoding": {"x": {"field": "mean", "type": "quantitative", "scale": {"domain": [1.003, 2.301], "nice": false, "zero": false}},
      "color": {"field": "site", "type": "nominal", "scale": {"domain": ["El Monte", "Riverside", "Fullerton"], "range": ["#3aaa35", "#d2232a", "#1d5ba6"]}, "legend": null},
      "order": {"field": "alt", "type": "quantitative"}}}
   ]
  },
  {
   "width": 183, "height": 436,
   "data": {"name": "prof"},
   "transform": [{"filter": "datum.p === 'lidar'"}],
   "encoding": {"y": {"field": "alt", "type": "quantitative", "scale": {"domain": [0, 1500], "nice": false, "zero": false},
     "axis": {"values": [0, 500, 1000, 1500], "tickSize": -12, "labels": false, "title": null}}},
   "layer": [
    {"transform": [{"filter": "datum.site === 'Fullerton'"}],
     "mark": {"type": "area", "orient": "horizontal", "interpolate": "catmull-rom", "fill": "#9fc5e8", "fillOpacity": 0.5, "clip": true},
     "encoding": {"x": {"field": "lo", "type": "quantitative", "scale": {"domain": [13.71, 39.13], "nice": false, "zero": false},
        "axis": {"values": [15, 20, 25, 30, 35], "labelExpr": "datum.value === 30 ? '' : (datum.value === 35 ? '35x10⁻³' : datum.label)", "tickSize": -10, "labelPadding": 18, "labelFontSize": 17, "title": "βπ / σₑₓₜ (Sr⁻¹)", "titleFontSize": 20, "titlePadding": 50}},
      "x2": {"field": "hi"}}},
    {"transform": [{"filter": "datum.site === 'El Monte'"}],
     "mark": {"type": "area", "orient": "horizontal", "interpolate": "catmull-rom", "fill": "#c2e08a", "fillOpacity": 0.5, "clip": true},
     "encoding": {"x": {"field": "lo", "type": "quantitative", "scale": {"domain": [13.71, 39.13], "nice": false, "zero": false}}, "x2": {"field": "hi"}}},
    {"transform": [{"filter": "datum.site === 'Riverside'"}],
     "mark": {"type": "area", "orient": "horizontal", "interpolate": "catmull-rom", "fill": "#eea196", "fillOpacity": 0.5, "clip": true},
     "encoding": {"x": {"field": "lo", "type": "quantitative", "scale": {"domain": [13.71, 39.13], "nice": false, "zero": false}}, "x2": {"field": "hi"}}},
    {"mark": {"type": "line", "interpolate": "catmull-rom", "strokeDash": [1.8, 2], "strokeWidth": 1.8, "clip": true},
     "encoding": {"x": {"field": "lo", "type": "quantitative", "scale": {"domain": [13.71, 39.13], "nice": false, "zero": false}},
      "stroke": {"field": "site", "type": "nominal", "scale": {"domain": ["El Monte", "Riverside", "Fullerton"], "range": ["#5fa84a", "#a83232", "#233f78"]}, "legend": null},
      "order": {"field": "alt", "type": "quantitative"}}},
    {"mark": {"type": "line", "interpolate": "catmull-rom", "strokeDash": [1.8, 2], "strokeWidth": 1.8, "clip": true},
     "encoding": {"x": {"field": "hi", "type": "quantitative", "scale": {"domain": [13.71, 39.13], "nice": false, "zero": false}},
      "stroke": {"field": "site", "type": "nominal", "scale": {"domain": ["El Monte", "Riverside", "Fullerton"], "range": ["#5fa84a", "#a83232", "#233f78"]}, "legend": null},
      "order": {"field": "alt", "type": "quantitative"}}},
    {"mark": {"type": "line", "interpolate": "catmull-rom", "strokeWidth": 5, "strokeCap": "round", "clip": true},
     "encoding": {"x": {"field": "mean", "type": "quantitative", "scale": {"domain": [13.71, 39.13], "nice": false, "zero": false}},
      "color": {"field": "site", "type": "nominal", "scale": {"domain": ["El Monte", "Riverside", "Fullerton"], "range": ["#3aaa35", "#d2232a", "#1d5ba6"]}, "legend": null},
      "order": {"field": "alt", "type": "quantitative"}}}
   ]
  },
  {
   "width": 176, "height": 436,
   "encoding": {"y": {"field": "alt", "type": "quantitative", "scale": {"domain": [0, 1500], "nice": false, "zero": false},
     "axis": {"values": [0, 500, 1000, 1500], "tickSize": -12, "labels": false, "title": null}}},
   "layer": [
    {"data": {"name": "prof"},
     "transform": [{"filter": "datum.p === 'sp'"}],
     "layer": [
      {"transform": [{"filter": "datum.site === 'Fullerton'"}],
       "mark": {"type": "area", "orient": "horizontal", "interpolate": "catmull-rom", "fill": "#9fc5e8", "fillOpacity": 0.5, "clip": true},
       "encoding": {"x": {"field": "lo", "type": "quantitative", "scale": {"domain": [0.961, 1.92], "nice": false, "zero": false},
          "axis": {"values": [1.0, 1.2, 1.4, 1.6, 1.8], "format": ".1f", "tickSize": -10, "labelPadding": 18, "labelFontSize": 17, "title": "σₛₚ(80%)/σₛₚ(30%)", "titleFontSize": 19, "titlePadding": 50}},
        "x2": {"field": "hi"}}},
      {"transform": [{"filter": "datum.site === 'El Monte'"}],
       "mark": {"type": "area", "orient": "horizontal", "interpolate": "catmull-rom", "fill": "#c2e08a", "fillOpacity": 0.5, "clip": true},
       "encoding": {"x": {"field": "lo", "type": "quantitative", "scale": {"domain": [0.961, 1.92], "nice": false, "zero": false}}, "x2": {"field": "hi"}}},
      {"transform": [{"filter": "datum.site === 'Riverside'"}],
       "mark": {"type": "area", "orient": "horizontal", "interpolate": "catmull-rom", "fill": "#eea196", "fillOpacity": 0.5, "clip": true},
       "encoding": {"x": {"field": "lo", "type": "quantitative", "scale": {"domain": [0.961, 1.92], "nice": false, "zero": false}}, "x2": {"field": "hi"}}},
      {"mark": {"type": "line", "interpolate": "catmull-rom", "strokeDash": [1.8, 2], "strokeWidth": 1.8, "clip": true},
       "encoding": {"x": {"field": "lo", "type": "quantitative", "scale": {"domain": [0.961, 1.92], "nice": false, "zero": false}},
        "stroke": {"field": "site", "type": "nominal", "scale": {"domain": ["El Monte", "Riverside", "Fullerton"], "range": ["#5fa84a", "#a83232", "#233f78"]}, "legend": null},
        "order": {"field": "alt", "type": "quantitative"}}},
      {"mark": {"type": "line", "interpolate": "catmull-rom", "strokeDash": [1.8, 2], "strokeWidth": 1.8, "clip": true},
       "encoding": {"x": {"field": "hi", "type": "quantitative", "scale": {"domain": [0.961, 1.92], "nice": false, "zero": false}},
        "stroke": {"field": "site", "type": "nominal", "scale": {"domain": ["El Monte", "Riverside", "Fullerton"], "range": ["#5fa84a", "#a83232", "#233f78"]}, "legend": null},
        "order": {"field": "alt", "type": "quantitative"}}},
      {"mark": {"type": "line", "interpolate": "catmull-rom", "strokeWidth": 5, "strokeCap": "round", "clip": true},
       "encoding": {"x": {"field": "mean", "type": "quantitative", "scale": {"domain": [0.961, 1.92], "nice": false, "zero": false}},
        "color": {"field": "site", "type": "nominal", "scale": {"domain": ["El Monte", "Riverside", "Fullerton"], "range": ["#3aaa35", "#d2232a", "#1d5ba6"]}, "legend": null},
        "order": {"field": "alt", "type": "quantitative"}}}
     ]},
    {"data": {"name": "notes"},
     "transform": [{"filter": "datum.kind === 'head'"}],
     "mark": {"type": "text", "align": "left", "baseline": "middle", "font": "Liberation Sans", "fontSize": 18, "fontWeight": "bold", "color": "black"},
     "encoding": {"x": {"field": "x", "type": "quantitative", "scale": {"domain": [0.961, 1.92], "nice": false, "zero": false}}, "text": {"field": "label"}}},
    {"data": {"name": "notes"},
     "transform": [{"filter": "datum.kind === 'site'"}],
     "mark": {"type": "text", "align": "left", "baseline": "middle", "font": "Liberation Sans", "fontSize": 26},
     "encoding": {"x": {"field": "x", "type": "quantitative", "scale": {"domain": [0.961, 1.92], "nice": false, "zero": false}}, "text": {"field": "label"},
      "color": {"field": "site", "type": "nominal", "scale": {"domain": ["El Monte", "Riverside", "Fullerton"], "range": ["#3aaa35", "#d2232a", "#1d5ba6"]}, "legend": null}}}
   ]
  }
 ]
}
